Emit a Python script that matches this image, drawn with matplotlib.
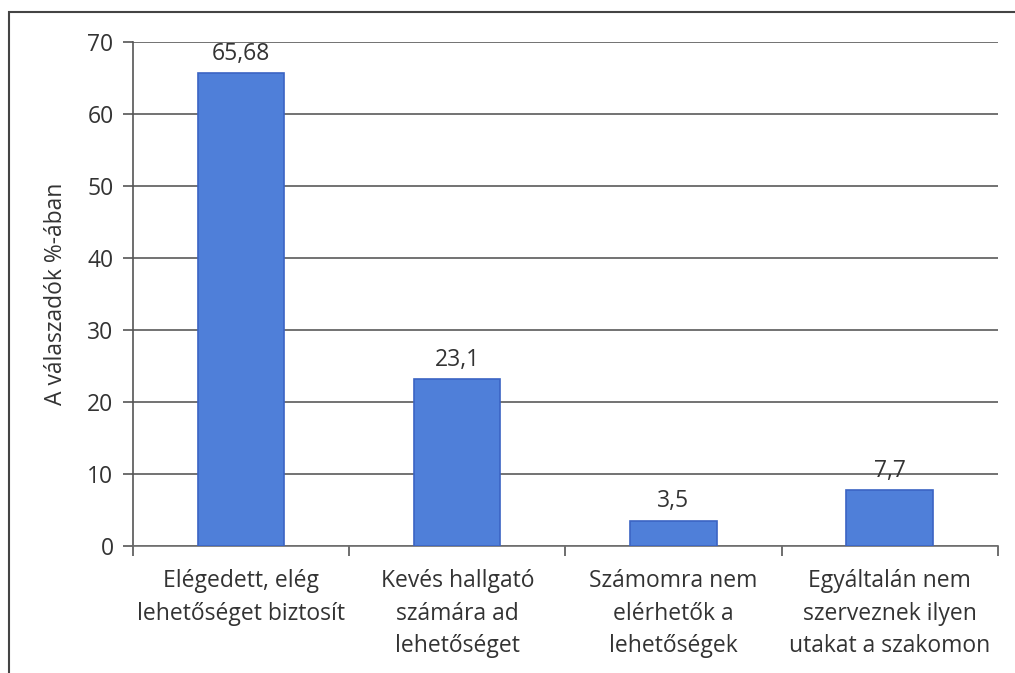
import matplotlib.pyplot as plt
from matplotlib.patches import Rectangle

plt.rcParams["font.family"] = ["Open Sans", "DejaVu Sans"]

categories = [
    "Elégedett, elég\nlehetőséget biztosít",
    "Kevés hallgató\nszámára ad\nlehetőséget",
    "Számomra nem\nelérhetők a\nlehetőségek",
    "Egyáltalán nem\nszerveznek ilyen\nutakat a szakomon",
]
values = [65.68, 23.1, 3.5, 7.7]
value_labels = ["65,68", "23,1", "3,5", "7,7"]
y_ticks = [0, 10, 20, 30, 40, 50, 60, 70]

TEXT = "#333333"
FS = 16.5


def main():
    fig = plt.figure(figsize=(10.15, 6.73), dpi=100)
    ax = fig.add_axes([0.131, 0.189, 0.852, 0.749])

    # outer frame of the scanned chart
    fig.patches.append(Rectangle((9 / 1015, -0.1), 1.2, 1 - 12 / 673 + 0.1,
                                 transform=fig.transFigure, fill=False,
                                 edgecolor="#444444", linewidth=1.5))

    x = range(len(values))
    bars = ax.bar(x, values, width=0.4, color="#4F7FD9", edgecolor="#3B64C4",
                  linewidth=1.2, zorder=3)

    for bar, lab in zip(bars, value_labels):
        ax.text(bar.get_x() + bar.get_width() / 2, bar.get_height() + 1.0, lab,
                ha="center", va="bottom", fontsize=FS, color=TEXT, zorder=4)

    ax.set_xlim(-0.5, len(values) - 0.5)
    ax.set_ylim(0, 70)
    ax.set_yticks(y_ticks)
    ax.set_yticklabels([str(t) for t in y_ticks], fontsize=FS, color=TEXT)
    ax.yaxis.grid(True, color="#5a5a5a", linewidth=1.2, zorder=0)

    ax.set_xticks(list(x))
    ax.set_xticklabels(categories, fontsize=FS, color=TEXT, linespacing=1.45,
                       va="top")
    ax.tick_params(axis="x", length=0, pad=17)
    ax.set_xticks([i - 0.5 for i in range(len(values) + 1)], minor=True)
    ax.tick_params(axis="x", which="minor", length=7, color="#555555", width=1.2)
    ax.tick_params(axis="y", length=7, color="#555555", width=1.2, pad=7)

    ax.set_ylabel("A válaszadók %-ában", fontsize=FS, color=TEXT, labelpad=14)

    for side in ["top", "right"]:
        ax.spines[side].set_visible(False)
    ax.spines["left"].set_color("#555555")
    ax.spines["left"].set_linewidth(1.2)
    ax.spines["bottom"].set_color("#6e6e6e")
    ax.spines["bottom"].set_linewidth(1.2)

    fig.savefig("out.png", dpi=100)


if __name__ == "__main__":
    main()
